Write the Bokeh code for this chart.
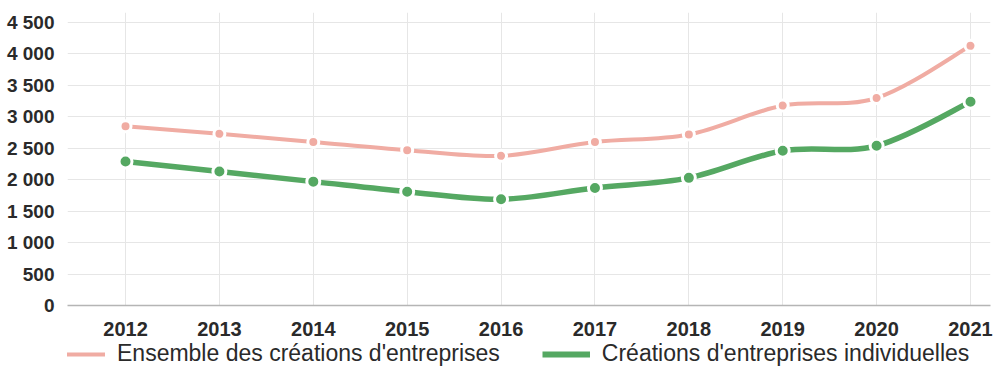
from bokeh.plotting import figure
from bokeh.layouts import column
from bokeh.models import ColumnDataSource, Legend, LegendItem, FixedTicker, Range1d
from bokeh.embed import file_html
from bokeh.resources import INLINE

years = [2012, 2013, 2014, 2015, 2016, 2017, 2018, 2019, 2020, 2021]
ensemble = [2850, 2730, 2600, 2470, 2380, 2600, 2720, 3180, 3300, 4130]
individuelles = [2290, 2130, 1970, 1810, 1690, 1870, 2030, 2460, 2540, 3240]
y_ticks = [0, 500, 1000, 1500, 2000, 2500, 3000, 3500, 4000, 4500]
y_tick_labels = ["0", "500", "1 000", "1 500", "2 000", "2 500", "3 000", "3 500", "4 000", "4 500"]
series_names = ["Ensemble des créations d'entreprises", "Créations d'entreprises individuelles"]

PINK = "#f0aca3"
GREEN = "#55a862"
FONT = "Liberation Sans"


def spline_source(xs, ys, t=1.0 / 6):
    n = len(xs)
    d = dict(x0=[], y0=[], x1=[], y1=[], cx0=[], cy0=[], cx1=[], cy1=[])
    for i in range(n - 1):
        xm, ym = (xs[i - 1], ys[i - 1]) if i > 0 else (xs[i], ys[i])
        xp, yp = (xs[i + 2], ys[i + 2]) if i + 2 < n else (xs[i + 1], ys[i + 1])
        d["x0"].append(xs[i]); d["y0"].append(ys[i])
        d["x1"].append(xs[i + 1]); d["y1"].append(ys[i + 1])
        d["cx0"].append(xs[i] + (xs[i + 1] - xm) * t)
        d["cy0"].append(ys[i] + (ys[i + 1] - ym) * t)
        d["cx1"].append(xs[i + 1] - (xp - xs[i]) * t)
        d["cy1"].append(ys[i + 1] - (yp - ys[i]) * t)
    return ColumnDataSource(d)


p = figure(width=995, height=341, output_backend="svg", toolbar_location=None,
           x_range=Range1d(2011.382, 2021.213), y_range=Range1d(0, 4660),
           min_border_left=67, min_border_right=5, min_border_top=12, min_border_bottom=36)
p.outline_line_color = None
p.background_fill_color = "white"

# grids
p.xgrid.grid_line_color = "#e6e6e6"
p.ygrid.grid_line_color = "#e6e6e6"
p.xaxis.ticker = FixedTicker(ticks=years)
p.yaxis.ticker = FixedTicker(ticks=y_ticks)
p.yaxis.major_label_overrides = {v: s for v, s in zip(y_ticks, y_tick_labels)}

for ax in (p.xaxis[0], p.yaxis[0]):
    ax.major_tick_line_color = None
    ax.minor_tick_line_color = None
    ax.major_label_text_font = FONT
    ax.major_label_text_font_style = "bold"
    ax.major_label_text_color = "#2a2a2a"
p.yaxis.axis_line_color = None
p.yaxis.major_label_text_font_size = "19px"
p.yaxis.major_label_standoff = 7
p.xaxis.axis_line_color = "#b5b5b5"
p.xaxis.axis_line_width = 1.5
p.xaxis.major_label_text_font_size = "20px"
p.xaxis.major_label_standoff = 10

# curves
for ys, col, lw, size in ((ensemble, PINK, 4, 11), (individuelles, GREEN, 5.5, 13)):
    src = spline_source(years, ys)
    p.bezier(x0="x0", y0="y0", x1="x1", y1="y1", cx0="cx0", cy0="cy0", cx1="cx1", cy1="cy1",
             source=src, line_color=col, line_width=lw)
    p.scatter(years, ys, size=size, fill_color=col, line_color="white", line_width=3)

# legend in its own strip below the chart
lg = figure(width=995, height=26, output_backend="svg", toolbar_location=None,
            x_range=Range1d(0, 1), y_range=Range1d(0, 1),
            x_axis_location=None, y_axis_location=None,
            min_border=0, min_border_left=0, min_border_right=0, min_border_top=0, min_border_bottom=0)
lg.grid.visible = False
lg.outline_line_color = None
# legend proxies placed outside the visible range
leg_pink = lg.line([-5, -4], [-5, -4], line_color=PINK, line_width=4)
leg_green = lg.line([-5, -4], [-5, -4], line_color=GREEN, line_width=6)
legend = Legend(items=[LegendItem(label=series_names[0], renderers=[leg_pink]),
                       LegendItem(label=series_names[1], renderers=[leg_green])],
                orientation="horizontal", location=(-10, 0))
legend.label_text_font = FONT
legend.label_text_font_size = "23px"
legend.label_text_color = "#2a2a2a"
legend.glyph_width = 48
legend.glyph_height = 20
legend.label_standoff = 12
legend.spacing = 42
legend.padding = 0
legend.margin = 0
legend.border_line_color = None
legend.background_fill_alpha = 0
lg.add_layout(legend, "center")

layout = column(p, lg, spacing=0)
open("out.html", "w").write(file_html(layout, INLINE))
